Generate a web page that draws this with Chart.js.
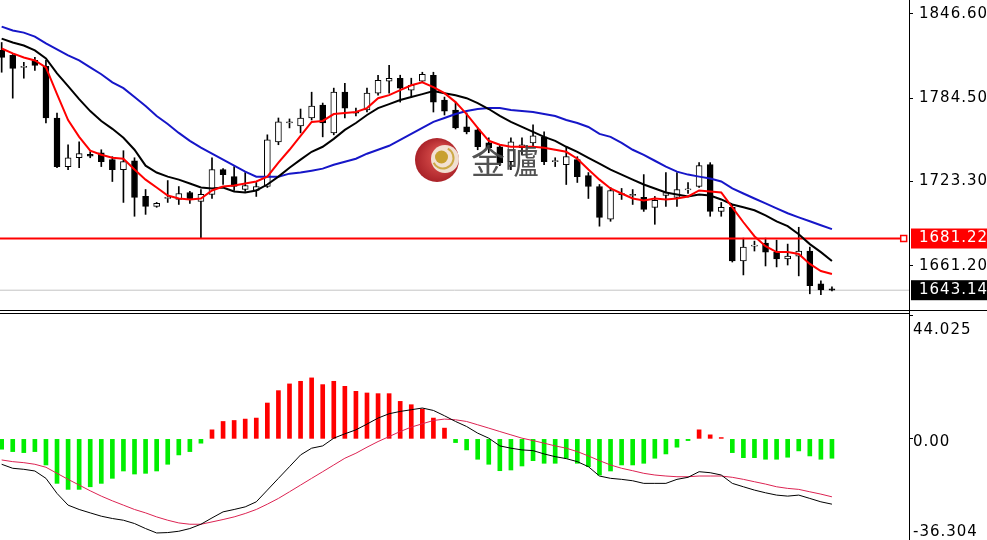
<!DOCTYPE html>
<html>
<head>
<meta charset="utf-8">
<script src="https://cdn.jsdelivr.net/npm/chart.js@4.4.1/dist/chart.umd.min.js"></script>
<style>
html, body { margin: 0; padding: 0; background: #fff; overflow: hidden; }
#wrap { position: relative; width: 987px; height: 540px; }
#price { position: absolute; left: 0; top: 0; }
#macd { position: absolute; left: 0; top: 314px; }
.sep { position: absolute; background: #000; }
</style>
</head>
<body>
<div id="wrap">
  <canvas id="price" width="987" height="310"></canvas>
  <div class="sep" style="left:0;top:310px;width:987px;height:1px"></div>
  <div class="sep" style="left:0;top:313px;width:910px;height:1px"></div>
  <div class="sep" style="left:909px;top:310px;width:1px;height:5px"></div>
  <canvas id="macd" width="987" height="227"></canvas>
</div>
<script>
// candles
const OPEN = [1819.8,1816.1,1807.3,1812.4,1808.0,1770.0,1734.2,1740.7,1743.3,1744.4,
  1739.3,1732.0,1738.5,1712.2,1704.9,1710.7,1710.0,1715.1,1708.5,1713.7,
  1732.0,1726.8,1717.3,1716.6,1719.5,1752.4,1766.3,1764.1,1770.0,1779.5,
  1759.0,1789.0,1774.4,1775.9,1788.3,1797.1,1799.3,1790.5,1797.1,1801.5,
  1783.2,1775.9,1763.4,1761.2,1751.7,1748.8,1737.8,1748.1,1751.7,1756.1,
  1737.8,1735.6,1739.3,1727.6,1719.5,1695.4,1714.4,1712.9,1711.5,1704.2,
  1712.9,1711.5,1717.0,1719.5,1735.6,1701.2,1704.2,1664.7,1675.6,1677.8,
  1671.2,1666.1,1668.3,1672.0,1647.8,1644.2];
const HIGH = [1825.6,1816.8,1811.0,1814.6,1812.4,1773.7,1750.3,1752.4,1745.1,1746.6,
  1741.5,1745.9,1740.7,1717.3,1707.8,1723.9,1719.5,1715.9,1717.3,1740.7,
  1732.7,1734.2,1729.8,1722.5,1757.6,1770.0,1769.3,1776.6,1789.0,1781.0,
  1792.0,1795.6,1777.3,1792.0,1801.5,1808.8,1801.5,1799.3,1803.7,1803.7,
  1785.4,1781.7,1773.7,1762.7,1755.4,1750.3,1755.4,1755.4,1764.9,1759.8,
  1740.7,1748.8,1741.5,1729.8,1721.0,1718.8,1718.1,1717.3,1728.3,1712.2,
  1729.8,1729.8,1722.5,1737.1,1737.1,1707.8,1706.3,1681.5,1679.3,1681.5,
  1680.0,1677.1,1689.5,1674.9,1650.0,1645.6];
const LOW = [1803.7,1784.6,1799.3,1805.1,1766.3,1733.4,1732.0,1733.4,1740.7,1734.2,
  1723.2,1707.8,1697.6,1699.0,1704.2,1707.8,1706.3,1707.1,1681.2,1710.7,
  1721.0,1716.6,1715.9,1712.2,1718.8,1750.3,1762.7,1759.0,1768.5,1756.1,
  1757.6,1770.0,1771.5,1774.4,1786.8,1788.3,1781.7,1785.4,1796.3,1774.4,
  1772.2,1761.9,1758.3,1746.6,1744.4,1734.9,1732.0,1742.9,1748.8,1735.6,
  1734.2,1721.0,1722.5,1710.7,1690.3,1693.9,1710.0,1706.3,1701.2,1691.7,
  1704.9,1704.9,1714.4,1718.8,1697.6,1697.6,1663.9,1654.4,1672.0,1661.0,
  1660.3,1661.7,1653.7,1640.5,1639.8,1642.7];
const CLOSE = [1814.6,1806.6,1808.1,1808.8,1770.0,1734.2,1740.7,1743.7,1741.8,1737.8,
  1732.0,1737.8,1711.5,1704.9,1707.1,1711.5,1714.4,1710.0,1713.7,1732.0,
  1728.3,1719.5,1720.3,1719.5,1753.9,1767.1,1767.1,1770.0,1778.8,1766.3,
  1789.0,1777.3,1773.6,1788.3,1797.8,1799.3,1792.0,1794.1,1802.2,1781.7,
  1775.1,1762.7,1759.8,1748.8,1748.1,1737.1,1752.4,1750.3,1756.8,1737.8,
  1738.6,1741.5,1726.8,1719.5,1696.8,1716.6,1713.6,1713.7,1702.7,1709.3,
  1715.1,1717.3,1717.8,1734.9,1701.2,1704.2,1664.7,1674.9,1676.4,1671.2,
  1666.1,1668.3,1672.0,1646.4,1643.4,1643.14];

// moving averages on the price chart
const MA_RED = [1821.2,1817.6,1814.6,1812.4,1807.3,1787.6,1768.5,1756.1,1745.9,1742.9,
  1740.7,1740.0,1732.0,1724.6,1718.8,1712.9,1710.7,1710.0,1710.7,1716.6,
  1719.5,1720.3,1721.7,1723.2,1726.8,1737.1,1746.6,1756.8,1767.1,1767.8,
  1772.9,1773.7,1774.4,1777.3,1784.6,1786.8,1790.5,1794.1,1796.3,1792.7,
  1788.3,1781.7,1772.9,1762.7,1753.2,1750.3,1748.8,1748.8,1748.8,1748.1,
  1746.6,1745.1,1740.0,1732.0,1724.6,1718.1,1714.4,1710.7,1709.3,1710.7,
  1710.0,1710.7,1712.2,1716.6,1715.9,1715.1,1704.2,1693.2,1682.9,1675.6,
  1671.2,1671.2,1669.8,1662.5,1657.3,1655.1];
const MA_BLACK = [1828.5,1825.6,1823.4,1819.8,1813.9,1802.9,1793.4,1783.9,1775.1,1767.8,
  1762.0,1755.4,1746.6,1734.9,1729.8,1726.8,1724.6,1721.7,1718.8,1718.1,
  1718.8,1715.9,1715.1,1716.6,1721.0,1726.8,1733.4,1739.3,1745.1,1748.8,
  1754.6,1761.2,1766.3,1772.2,1777.3,1780.2,1783.2,1785.4,1787.6,1789.8,
  1788.3,1786.8,1784.6,1781.0,1776.6,1771.5,1767.1,1763.4,1759.8,1756.1,
  1753.2,1748.8,1745.1,1740.7,1736.3,1732.0,1728.3,1724.6,1721.0,1718.1,
  1715.1,1713.7,1712.2,1713.7,1712.9,1710.0,1706.3,1704.2,1702.0,1698.3,
  1693.9,1690.3,1684.4,1677.1,1671.2,1664.7];
const MA_BLUE = [1837.3,1834.4,1832.9,1830.0,1824.9,1820.5,1816.1,1812.4,1807.3,1802.2,
  1796.3,1792.0,1785.4,1778.8,1771.5,1765.6,1759.0,1753.2,1748.1,1743.7,
  1739.3,1734.9,1730.5,1726.8,1726.8,1726.8,1729.0,1729.8,1731.2,1732.7,
  1735.6,1737.8,1740.0,1743.7,1746.6,1749.5,1753.9,1758.3,1762.7,1767.1,
  1770.0,1772.9,1775.1,1776.6,1777.3,1777.3,1775.9,1775.1,1774.4,1772.9,
  1771.5,1768.5,1766.3,1763.4,1758.3,1756.1,1751.7,1746.6,1742.9,1738.5,
  1734.2,1730.5,1728.3,1726.8,1725.4,1723.2,1718.1,1714.4,1710.7,1707.1,
  1703.4,1699.8,1696.8,1693.9,1691.0,1688.1];

// MACD panel
const HIST = [-3.68,-4.53,-4.89,-4.53,-9.28,-15.82,-17.96,-17.96,-17.03,-15.82,
  -14.03,-11.42,-12.50,-12.25,-11.42,-9.03,-5.71,-4.53,-1.54,3.21,
  6.18,6.53,7.03,7.39,12.74,17.14,19.53,20.46,21.67,19.28,
  20.46,18.67,16.89,16.31,16.07,16.07,13.32,12.14,10.60,7.39,
  3.82,-1.32,-3.93,-7.25,-9.03,-11.32,-11.07,-9.64,-7.75,-8.68,
  -8.68,-6.89,-8.68,-9.89,-12.85,-11.42,-9.28,-9.28,-8.68,-6.89,
  -5.36,-2.96,-0.61,3.21,1.43,0.46,-4.89,-6.68,-6.68,-7.25,
  -7.25,-6.53,-4.28,-6.07,-7.25,-6.89];
const DIF = [-9.03,-10.46,-10.82,-11.42,-14.03,-19.39,-23.56,-25.10,-26.31,-27.49,
  -28.31,-28.92,-30.10,-31.88,-33.45,-33.31,-32.84,-31.88,-30.35,-28.10,
  -25.95,-25.10,-24.17,-22.38,-18.21,-14.03,-9.89,-5.71,-3.32,-2.50,
  0.25,1.79,3.21,5.25,7.39,8.93,9.75,10.35,10.96,10.10,
  8.21,6.18,4.39,2.03,0.25,-2.50,-3.32,-3.93,-4.18,-5.36,
  -6.32,-7.03,-8.10,-9.89,-13.21,-14.03,-14.39,-14.89,-15.82,-15.82,
  -15.82,-14.39,-13.67,-11.67,-12.03,-12.85,-15.82,-17.03,-18.21,-19.17,
  -19.99,-20.35,-19.99,-21.17,-22.38,-23.21];
const DEA = [-7.50,-8.10,-8.46,-9.03,-10.10,-12.25,-14.39,-16.42,-18.46,-20.35,
  -22.03,-23.56,-25.10,-26.31,-27.74,-28.92,-29.88,-30.35,-30.35,-29.52,
  -28.67,-27.74,-26.53,-25.10,-23.21,-21.17,-18.81,-16.42,-14.03,-11.67,
  -9.28,-6.89,-5.11,-2.96,-0.96,0.82,2.61,4.18,5.36,6.53,
  7.03,6.78,6.18,5.00,3.82,2.61,1.43,0.25,-0.61,-1.54,
  -2.50,-3.32,-4.53,-6.07,-7.75,-9.28,-10.46,-11.32,-12.25,-12.85,
  -13.21,-13.46,-13.46,-13.21,-13.21,-13.21,-13.67,-14.39,-15.24,-16.07,
  -17.03,-17.60,-17.96,-18.81,-19.64,-20.60];

// axis values
const PRICE_TICKS = [1846.60, 1784.50, 1723.30, 1661.20];
const LEVEL = 1681.22;   // horizontal line
const LAST = 1643.14;    // current price
const PRICE_MAX = 1856.91, PRICE_MIN = 1628.56;
const MACD_MAX = 44.025, MACD_MIN = -36.304;
const MACD_TICKS = [MACD_MAX, 0, MACD_MIN];
const MACD_LABELS = ["44.025", "0.00", "-36.304"];

const X_MIN = -0.15, X_MAX = 81.96, LEVEL_END = 81.48;
const AXIS_W = 78;
const FAMILY = "DejaVu Sans";

const idx = OPEN.map((_, i) => i);
const pts = (arr) => arr.map((v, i) => ({ x: i, y: v }));

// wider axis digits, like the terminal font
const spacing = {
    id: "spacing",
    beforeUpdate: (c) => { c.ctx.letterSpacing = "1px"; },
    beforeDraw: (c) => { c.ctx.letterSpacing = "1px"; },
};

const watermark = {
    id: "watermark",
    afterDraw(chart) {
        const ctx = chart.ctx;
        ctx.save();
        ctx.letterSpacing = "0px";
        ctx.globalAlpha = 0.92;
        const g = ctx.createRadialGradient(446, 154, 3, 437, 160, 23);
        g.addColorStop(0, "#e8504a");
        g.addColorStop(1, "#a00d14");
        ctx.fillStyle = g;
        ctx.beginPath();
        ctx.arc(437, 160, 22, 0, Math.PI * 2);
        ctx.fill();
        ctx.fillStyle = "#f5efe0";
        ctx.beginPath();
        ctx.arc(445, 159, 14, 0, Math.PI * 2);
        ctx.fill();
        ctx.strokeStyle = "#c9a43a";
        ctx.lineWidth = 2;
        ctx.beginPath();
        ctx.arc(443, 158, 10.5, -0.35 * Math.PI, 0.85 * Math.PI);
        ctx.stroke();
        ctx.fillStyle = "#c49a22";
        ctx.beginPath();
        ctx.arc(441.5, 157, 6.5, 0, Math.PI * 2);
        ctx.fill();
        ctx.font = '34px "Noto Sans CJK SC"';
        ctx.fillStyle = "#444";
        ctx.textBaseline = "middle";
        ctx.fillText("金嚧", 471, 161);
        ctx.restore();
    },
};

const isMarker = (v) => v === LEVEL || v === LAST;
const tickVal = (ctx) => (ctx && ctx.tick ? ctx.tick.value : null);

const common = {
    animation: false,
    responsive: false,
    events: [],
    plugins: { legend: { display: false }, tooltip: { enabled: false } },
};

const xScale = { type: "linear", min: X_MIN, max: X_MAX, display: false, offset: false };

new Chart(document.getElementById("price"), {
    type: "bar",
    data: {
        datasets: [
            {
                type: "line", data: [{ x: X_MIN, y: LAST }, { x: X_MAX, y: LAST }],
                borderColor: "#c4c4c4", borderWidth: 1, pointRadius: 0, order: 9,
            },
            {
                data: idx.map((i) => ({ x: i, y: [LOW[i], HIGH[i]] })),
                backgroundColor: "#000", barThickness: 1, grouped: false, order: 8,
            },
            {
                data: idx.map((i) => ({ x: i, y: [OPEN[i], CLOSE[i]] })),
                backgroundColor: idx.map((i) => (CLOSE[i] >= OPEN[i] ? "#fff" : "#000")),
                borderColor: "#000", borderWidth: 1, borderSkipped: false,
                barThickness: 6, grouped: false, order: 7,
            },
            {
                type: "line", data: [{ x: X_MIN, y: LEVEL }, { x: LEVEL_END, y: LEVEL }],
                borderColor: "#ff0000", borderWidth: 2,
                pointRadius: [0, 4.2], pointStyle: "rect",
                pointBackgroundColor: "#fff", pointBorderColor: "#ff0000", pointBorderWidth: 1.5,
                order: 6,
            },
            { type: "line", data: pts(MA_BLUE), borderColor: "#1616c8", borderWidth: 2, pointRadius: 0, order: 3 },
            { type: "line", data: pts(MA_BLACK), borderColor: "#000", borderWidth: 2, pointRadius: 0, order: 2 },
            { type: "line", data: pts(MA_RED), borderColor: "#ff0000", borderWidth: 2, pointRadius: 0, order: 1 },
        ],
    },
    options: {
        ...common,
        layout: { padding: 0, autoPadding: false },
        scales: {
            x: xScale,
            y: {
                position: "right",
                min: PRICE_MIN,
                max: PRICE_MAX,
                afterBuildTicks: (s) => { s.ticks = [...PRICE_TICKS, LEVEL, LAST].map((v) => ({ value: v })); },
                afterFit: (s) => { s.width = AXIS_W; s.paddingTop = 0; s.paddingBottom = 0; },
                border: { display: true, color: "#000", width: 1 },
                grid: {
                    drawOnChartArea: false,
                    drawTicks: true,
                    tickLength: 4,
                    tickColor: (ctx) => (isMarker(tickVal(ctx)) ? "rgba(0,0,0,0)" : "#000"),
                },
                ticks: {
                    autoSkip: false,
                    padding: 6,
                    font: { family: FAMILY, size: 15 },
                    color: (ctx) => (isMarker(tickVal(ctx)) ? "#fff" : "#000"),
                    showLabelBackdrop: (ctx) => isMarker(tickVal(ctx)),
                    backdropColor: (ctx) => (tickVal(ctx) === LEVEL ? "#ff0000" : "#000"),
                    backdropPadding: { top: 1, bottom: 1, left: 8, right: 20 },
                    callback: (v) => Number(v).toFixed(2),
                },
            },
        },
    },
    plugins: [spacing, watermark],
});

new Chart(document.getElementById("macd"), {
    type: "bar",
    data: {
        datasets: [
            {
                data: pts(HIST),
                backgroundColor: HIST.map((v) => (v >= 0 ? "#ff0000" : "#00ee00")),
                barThickness: 4, grouped: false, order: 3,
            },
            { type: "line", data: pts(DEA), borderColor: "#dc2352", borderWidth: 1, pointRadius: 0, order: 2 },
            { type: "line", data: pts(DIF), borderColor: "#000", borderWidth: 1, pointRadius: 0, order: 1 },
        ],
    },
    options: {
        ...common,
        layout: { padding: { top: 1, left: 0, right: 0, bottom: 0 }, autoPadding: false },
        scales: {
            x: xScale,
            y: {
                position: "right",
                min: MACD_MIN,
                max: MACD_MAX,
                afterBuildTicks: (s) => { s.ticks = MACD_TICKS.map((v) => ({ value: v })); },
                afterFit: (s) => { s.width = AXIS_W; s.paddingTop = 0; s.paddingBottom = 0; },
                border: { display: true, color: "#000", width: 1 },
                grid: { drawOnChartArea: false, drawTicks: true, tickLength: 4, tickColor: "#000" },
                ticks: {
                    autoSkip: false,
                    padding: 0,
                    color: "#000",
                    // labels sit inside the panel, as in the terminal
                    font: (ctx) => {
                        const v = tickVal(ctx);
                        const lh = v === MACD_MAX ? "30px" : v === MACD_MIN ? "18px" : "6px";
                        return { family: FAMILY, size: 15, lineHeight: lh };
                    },
                    callback: (v, i) => (i === 2 ? [MACD_LABELS[2], ""] : ["", MACD_LABELS[i]]),
                },
            },
        },
    },
    plugins: [spacing],
});
</script>
</body>
</html>
